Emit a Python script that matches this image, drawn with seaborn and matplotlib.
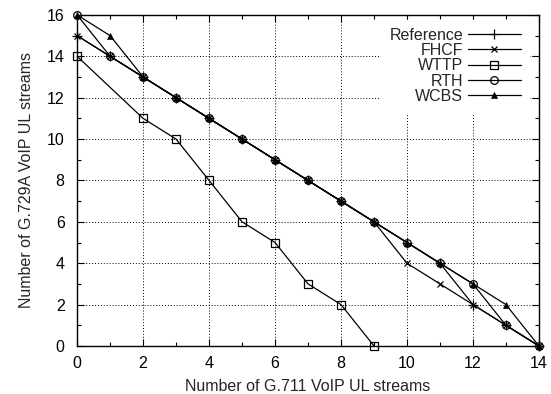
import matplotlib
matplotlib.use("Agg")
import matplotlib.pyplot as plt
import matplotlib.ticker as ticker
import seaborn as sns

# values
x_all = list(range(15))
reference = [15, 14, 13, 12, 11, 10, 9, 8, 7, 6, 5, 4, 2, 1, 0]
fhcf = [15, 14, 13, 12, 11, 10, 9, 8, 7, 6, 4, 3, 2, 1, 0]
wttp_x = [0, 2, 3, 4, 5, 6, 7, 8, 9]
wttp = [14, 11, 10, 8, 6, 5, 3, 2, 0]
rth = [16, 14, 13, 12, 11, 10, 9, 8, 7, 6, 5, 4, 3, 1, 0]
wcbs = [16, 15, 13, 12, 11, 10, 9, 8, 7, 6, 5, 4, 3, 2, 0]

sns.set_style("ticks")
plt.rcParams['font.family'] = ['Liberation Sans', 'DejaVu Sans']

fig, ax = plt.subplots(figsize=(5.51, 3.94), dpi=100)
fig.subplots_adjust(left=0.140, right=0.978, top=0.962, bottom=0.122)

lw = 0.9
series = [
    (x_all, reference, 'Reference', dict(marker='+', ms=6.5, mew=0.9)),
    (x_all, fhcf, 'FHCF', dict(marker='x', ms=5, mew=0.9)),
    (wttp_x, wttp, 'WTTP', dict(marker='s', ms=5.5, mew=0.9, markerfacecolor='none')),
    (x_all, rth, 'RTH', dict(marker='o', ms=5.5, mew=0.9, markerfacecolor='none')),
    (x_all, wcbs, 'WCBS', dict(marker='^', ms=4.5, mew=0.5, markerfacecolor='black')),
]
for xs, ys, name, style in series:
    sns.lineplot(x=xs, y=ys, color='black', lw=lw, label=name, ax=ax,
                 markeredgecolor='black', clip_on=False, zorder=3, **style)

ax.set_xlim(0, 14)
ax.set_ylim(0, 16)
ax.xaxis.set_major_locator(ticker.MultipleLocator(2))
ax.xaxis.set_minor_locator(ticker.MultipleLocator(1))
ax.yaxis.set_major_locator(ticker.MultipleLocator(2))
ax.yaxis.set_minor_locator(ticker.MultipleLocator(1))
ax.tick_params(which='both', direction='in', top=True, right=True, colors='black',
               labelsize=11.5, width=0.8)
ax.tick_params(which='major', length=5, pad=7)
ax.tick_params(axis='y', which='major', pad=9)
ax.tick_params(which='minor', length=3)
ax.grid(True, which='major', color='black', linestyle=(0, (1, 2)), linewidth=0.7)
for sp in ax.spines.values():
    sp.set_linewidth(1.0)
    sp.set_color('black')

ax.set_xlabel('Number of G.711 VoIP UL streams', fontsize=11.5, labelpad=6)
ax.set_ylabel('Number of G.729A VoIP UL streams', fontsize=11.5, labelpad=9)

leg = ax.legend(loc='upper right', markerfirst=False, fontsize=11.5, frameon=True,
                fancybox=False, edgecolor='white', framealpha=1, handlelength=3.3,
                handletextpad=0.3, labelspacing=0.02, borderaxespad=0.3,
                borderpad=0.5, bbox_to_anchor=(0.988, 1.0))
for t in leg.get_texts():
    t.set_ha('right')
leg._legend_box.align = 'right'
leg.set_zorder(5)

plt.savefig('out.png', dpi=100)
